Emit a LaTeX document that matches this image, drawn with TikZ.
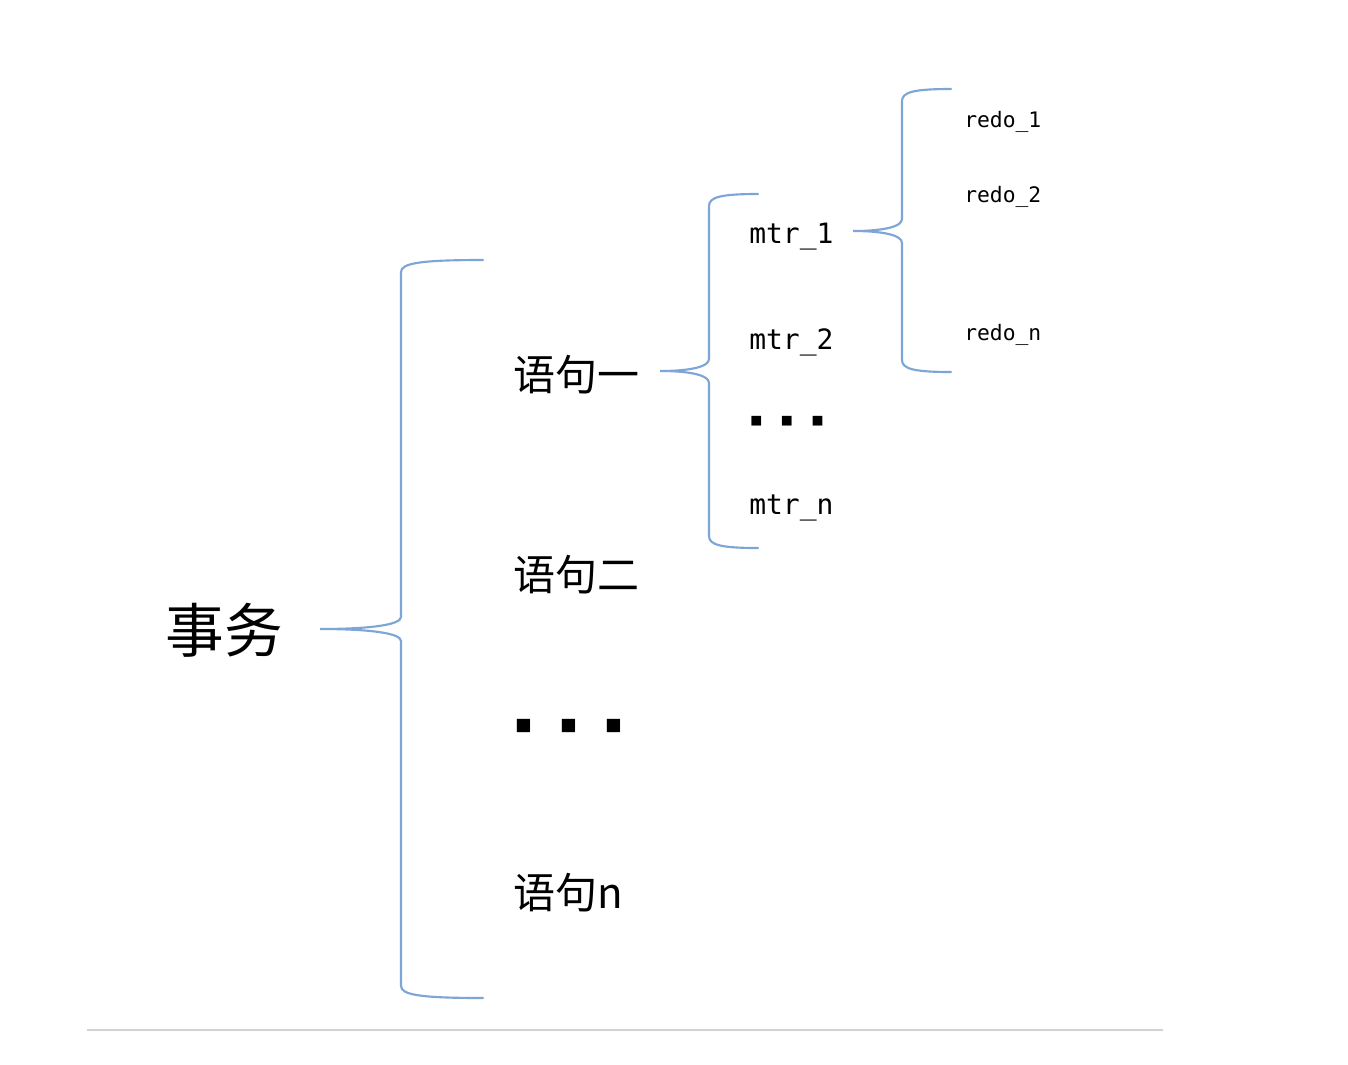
\documentclass[tikz,border=0pt]{standalone}
\usepackage{fontspec}
\setmonofont{DejaVu Sans Mono}
\newfontfamily\cjk{Noto Sans CJK SC}
\newfontfamily\symf{DejaVu Sans}
\definecolor{braceblue}{RGB}{125,165,215}
\definecolor{rulegray}{RGB}{210,210,210}
\newcommand{\drawbrace}[6]{% #1 x of vertical, #2 top y, #3 tip y, #4 bottom y, #5 tip x, #6 end x
  \draw[bracestyle] (#6,#2) .. controls ({#1+0.25*(#6-#1)},#2) and (#1,{#2+3}) .. (#1,{#2+12})
    -- (#1,{#3-12}) .. controls (#1,{#3-4}) and ({#1-0.4*(#1-#5)},#3) .. (#5,#3)
    .. controls ({#1-0.4*(#1-#5)},#3) and (#1,{#3+4}) .. (#1,{#3+12})
    -- (#1,{#4-12}) .. controls (#1,{#4-3}) and ({#1+0.25*(#6-#1)},#4) .. (#6,#4);}
\begin{document}
\begin{tikzpicture}[x=0.75pt,y=-0.75pt,
  bracestyle/.style={draw=braceblue,line width=1.6pt,line cap=round},
  bigcn/.style={font=\cjk\fontsize{44}{44}\selectfont,inner sep=0pt},
  cn/.style={font=\cjk\fontsize{31.5}{31.5}\selectfont,inner sep=0pt,anchor=west},
  mtr/.style={font=\ttfamily\fontsize{21}{21}\selectfont,inner sep=0pt,anchor=west},
  redo/.style={font=\ttfamily\fontsize{16}{16}\selectfont,inner sep=0pt,anchor=west},
  bigdots/.style={font=\symf\fontsize{13}{13}\selectfont,inner sep=0pt,anchor=west},
  smalldots/.style={font=\symf\fontsize{9.5}{9.5}\selectfont,inner sep=0pt,anchor=west}]
\useasboundingbox[fill=white] (0,0) rectangle (1348,1064);
% braces
\drawbrace{401}{260}{629}{998}{320}{483}
\drawbrace{709}{194}{371}{548}{660}{758}
\drawbrace{902}{89}{231}{372}{853}{951}
% texts
\node[bigcn] (tx) at (224,630) {事务};
\node[cn] (s1) at (513,375) {语句一};
\node[cn] (s2) at (513,575) {语句二};
\node[bigdots] (sd) at (515,726) {■\hspace{21.5pt}■\hspace{21.5pt}■};
\node[cn] (sn) at (513,893) {语句n};
\node[mtr] (m1) at (749,237) {mtr\_1};
\node[mtr] (m2) at (749,342) {mtr\_2};
\node[smalldots] (md) at (750,421) {■\hspace{14pt}■\hspace{14pt}■};
\node[mtr] (mn) at (749,508) {mtr\_n};
\node[redo] (r1) at (964,122) {redo\_1};
\node[redo] (r2) at (964,197) {redo\_2};
\node[redo] (rn) at (964,335) {redo\_n};
% bottom rule
\coordinate (la) at (87,1030);
\coordinate (lb) at (1163,1030);
\draw[rulegray,line width=2.2pt] (la) -- (lb);
\end{tikzpicture}
\end{document}
